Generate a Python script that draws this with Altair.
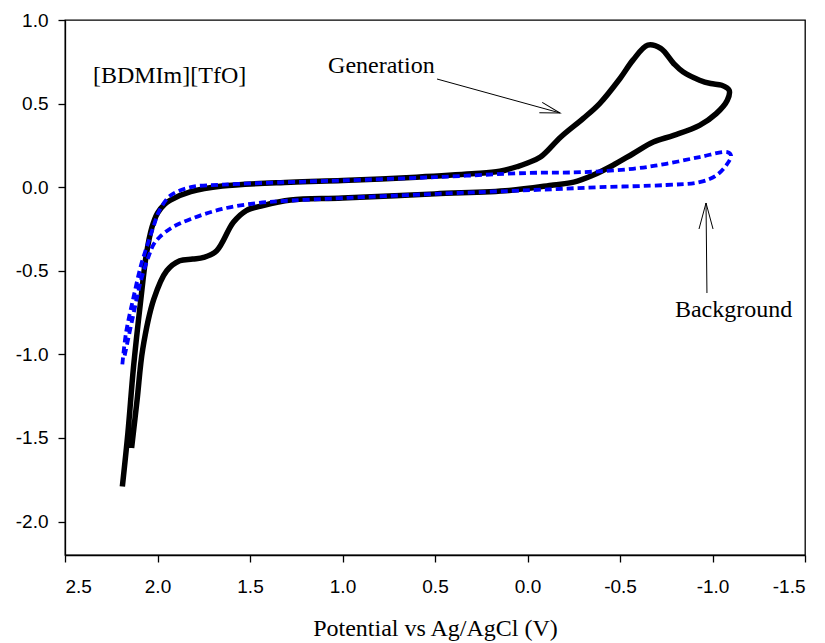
import altair as alt
import pandas as pd

# Generation (black solid) cyclic voltammogram, in path order
gen_x = [2.19, 2.16, 2.13, 2.09, 2.06, 2.03, 2.00, 1.96, 1.93, 1.82, 1.65, 1.28, 1.00, 0.60,
         0.30, 0.15, 0.05, 0.00, -0.07, -0.18, -0.30, -0.39, -0.50, -0.57, -0.65, -0.72,
         -0.79, -0.84, -0.93, -0.99, -1.05, -1.09, -1.08, -1.02, -0.93, -0.79, -0.68, -0.57,
         -0.46, -0.35, -0.25, -0.14, 0.10, 0.50, 1.00, 1.28, 1.43, 1.52, 1.59, 1.68, 1.75,
         1.81, 1.88, 1.95, 2.02, 2.08, 2.11, 2.14]
gen_y = [-1.79, -1.47, -1.08, -0.67, -0.40, -0.24, -0.155, -0.10, -0.077, -0.027, 0.007, 0.03,
         0.04, 0.06, 0.08, 0.095, 0.125, 0.145, 0.18, 0.30, 0.41, 0.50, 0.65, 0.76, 0.85, 0.83,
         0.74, 0.69, 0.64, 0.62, 0.61, 0.58, 0.52, 0.44, 0.37, 0.31, 0.27, 0.20,
         0.13, 0.07, 0.03, 0.013, -0.02, -0.04, -0.065, -0.077, -0.11, -0.14, -0.21, -0.38, -0.42,
         -0.43, -0.44, -0.50, -0.67, -0.97, -1.27, -1.56]

# Background (blue dashed), in path order
bg_x = [2.19, 2.17, 2.13, 2.09, 2.05, 2.02, 1.99, 1.93, 1.82, 1.65, 1.30, 1.00, 0.50, 0.00,
        -0.30, -0.57, -0.75, -0.93, -1.08, -1.10, -1.08, -1.02, -0.93, -0.75, -0.39, -0.03,
        0.50, 1.00, 1.28, 1.46, 1.65, 1.82, 1.92, 1.99, 2.02, 2.05, 2.09, 2.13, 2.18]
bg_y = [-1.06, -0.87, -0.66, -0.47, -0.33, -0.23, -0.14, -0.05, 0.0, 0.015, 0.03, 0.04, 0.06, 0.085,
        0.09, 0.11, 0.14, 0.18, 0.21, 0.19, 0.14, 0.07, 0.03, 0.013, 0.0, -0.017,
        -0.04, -0.065, -0.08, -0.095, -0.13, -0.19, -0.24, -0.30, -0.34, -0.42, -0.56, -0.76, -1.02]

# Annotations
label_text = ["[BDMIm][TfO]", "Generation", "Background"]
label_x = [2.349, 1.078, -0.797]
label_y = [0.623, 0.683, -0.776]

arrow_x = [0.489, -0.970]
arrow_y = [0.647, -0.633]
arrow_x2 = [-0.176, -0.965]
arrow_y2 = [0.444, -0.0945]
arrow_angle = [15.45, 270]
arrow_size = [1600, 2704]

x_ticks = [2.5, 2.0, 1.5, 1.0, 0.5, 0.0, -0.5, -1.0, -1.5]
y_ticks = [-2.0, -1.5, -1.0, -0.5, 0.0, 0.5, 1.0]

gen = pd.DataFrame({"x": gen_x, "y": gen_y, "i": range(len(gen_x))})
bg = pd.DataFrame({"x": bg_x, "y": bg_y, "i": range(len(bg_x))})
labels = pd.DataFrame({"x": label_x, "y": label_y, "t": label_text})
arrows = pd.DataFrame({"x": arrow_x, "y": arrow_y, "x2": arrow_x2, "y2": arrow_y2,
                       "angle": arrow_angle, "size": arrow_size})

lab_expr = "(datum.value < 0 ? '-' : '') + format(abs(datum.value), '.1f')"
xs = alt.Scale(domain=[-1.5, 2.5], reverse=True, nice=False, zero=False)
ys = alt.Scale(domain=[-2.2, 1.0], nice=False, zero=False)


def xenc(f="x"):
    return alt.X(f + ":Q", scale=xs, title="Potential vs Ag/AgCl (V)",
                 axis=alt.Axis(values=x_ticks, labelExpr=lab_expr))


def yenc(f="y"):
    return alt.Y(f + ":Q", scale=ys, title=None,
                 axis=alt.Axis(values=y_ticks, labelExpr=lab_expr))


black = alt.Chart(gen).mark_line(color="black", strokeWidth=5.5, interpolate="catmull-rom",
                                 strokeJoin="round", strokeCap="butt").encode(
    x=xenc(), y=yenc(), order="i:Q")
blue = alt.Chart(bg).mark_line(color="#0000ff", strokeWidth=3.8, strokeDash=[7, 4],
                               interpolate="catmull-rom").encode(
    x=xenc(), y=yenc(), order="i:Q")
texts = alt.Chart(labels).mark_text(font="Liberation Serif", fontSize=24, align="left",
                                    baseline="alphabetic", color="black").encode(
    x=xenc(), y=yenc(), text="t:N")
lines = alt.Chart(arrows).mark_rule(color="black", strokeWidth=1).encode(
    x=xenc(), y=yenc(), x2="x2:Q", y2="y2:Q")
heads = alt.Chart(arrows).mark_point(shape="M-1,-0.27L0,0L-1,0.27", filled=False,
                                     color="black", strokeWidth=1, opacity=1).encode(
    x=xenc("x2"), y=yenc("y2"),
    angle=alt.Angle("angle:Q", scale=None),
    size=alt.Size("size:Q", scale=None, legend=None))

chart = alt.layer(black, blue, lines, heads, texts).properties(
    width=740, height=535,
    autosize=alt.AutoSizeParams(type="none"),
    padding={"left": 65, "top": 20, "right": 20, "bottom": 88},
).configure_view(stroke="black", strokeWidth=1.3).configure_axis(
    grid=False, domainColor="black", domainWidth=1.3, tickColor="black", tickWidth=1.3,
    tickSize=7, labelColor="black", labelFont="Liberation Sans", labelFontSize=19,
    labelPadding=10, titleFont="Liberation Serif", titleFontSize=24,
    titleFontWeight="normal", titleColor="black"
).configure_axisX(labelPadding=15, titlePadding=20)

chart.save("out.html", embed_options={"renderer": "svg", "actions": False})
